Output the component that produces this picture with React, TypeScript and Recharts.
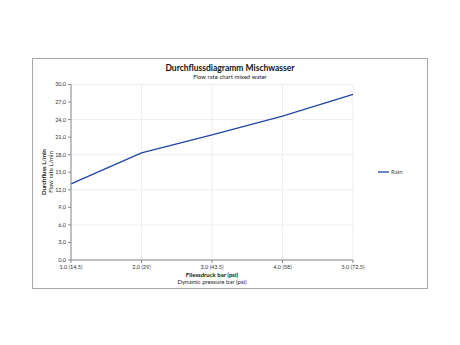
import React from 'react';
import {
  LineChart,
  Line,
  XAxis,
  YAxis,
  CartesianGrid,
} from 'recharts';

// Dynamic pressure categories, bar (psi)
const pressureLabels = ['1.0 (14.5)', '2.0 (29)', '3.0 (43.5)', '4.0 (58)', '5.0 (72.5)'];
// Flow rate in L/min for the "Rain" setting
const rainFlow = [13.0, 18.3, 21.4, 24.6, 28.3];
const yTicks = [0, 3, 6, 9, 12, 15, 18, 21, 24, 27, 30];

const FONT = 'Lato, "DejaVu Sans", sans-serif';
const LINE_COLOR = '#1f44a6';

const chartData = pressureLabels.map((label, i) => ({ label, rain: rainFlow[i] }));

export default function App() {
  return (
    <div style={{ position: 'absolute', left: 0, top: 0, width: 460, height: 345, background: '#fff' }}>
      <LineChart
        width={460}
        height={345}
        data={chartData}
        margin={{ top: 84.5, right: 107, bottom: 65, left: 41 }}
      >
        <CartesianGrid stroke="#e6e6e6" strokeWidth={0.7} />
        <XAxis
          dataKey="label"
          height={20}
          interval={0}
          tickSize={3}
          stroke="#8a8a8a"
          tick={{ fontSize: 5.5, fill: '#333', fontFamily: FONT }}
        />
        <YAxis
          width={30}
          domain={[0, 30]}
          ticks={yTicks}
          tickSize={3}
          stroke="#8a8a8a"
          tickFormatter={(v: number) => v.toFixed(1).replace('.', ',')}
          tick={{ fontSize: 5.5, fill: '#333', fontFamily: FONT }}
        />
        <Line
          dataKey="rain"
          name="Rain"
          stroke={LINE_COLOR}
          strokeWidth={1.3}
          dot={false}
          isAnimationActive={false}
        />
      </LineChart>
      <svg
        width={460}
        height={345}
        style={{ position: 'absolute', left: 0, top: 0, pointerEvents: 'none' }}
        fontFamily={FONT}
      >
        <rect x={32.5} y={58.5} width={395} height={230} fill="none" stroke="#a8a8a8" strokeWidth={1} />
        <text x={230} y={71} textAnchor="middle" fontSize={8.5} fontWeight="bold" fill="#111">
          Durchflussdiagramm Mischwasser
        </text>
        <text x={230} y={78.5} textAnchor="middle" fontSize={6} fill="#222">
          Flow rate chart mixed water
        </text>
        <text x={212} y={277} textAnchor="middle" fontSize={6} fontWeight="bold" fill="#111">
          Fliessdruck bar (psi)
        </text>
        <text x={212} y={284} textAnchor="middle" fontSize={6} fill="#222">
          Dynamic pressure bar (psi)
        </text>
        <text transform="translate(46,172) rotate(-90)" textAnchor="middle" fontSize={6} fontWeight="bold" fill="#111">
          Durchfluss L/min
        </text>
        <text transform="translate(52.5,172) rotate(-90)" textAnchor="middle" fontSize={6} fill="#222">
          Flow rate L/min
        </text>
        {/* series legend */}
        <line x1={378} x2={389} y1={172} y2={172} stroke={LINE_COLOR} strokeWidth={1.3} />
        <text x={391} y={174} fontSize={6} fill="#444">Rain</text>
      </svg>
    </div>
  );
}
